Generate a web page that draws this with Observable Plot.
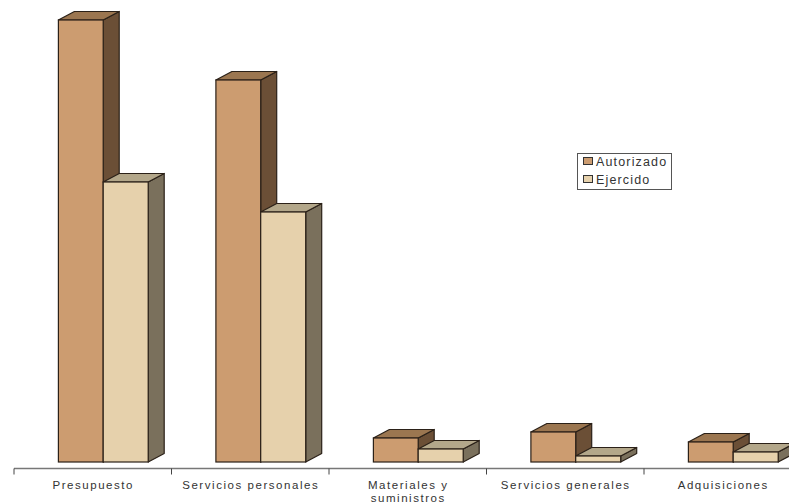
<!DOCTYPE html>
<html>
<head>
<meta charset="utf-8">
<script src="https://cdn.jsdelivr.net/npm/d3@7"></script>
<script src="https://cdn.jsdelivr.net/npm/@observablehq/plot@0.6"></script>
<style>
  html, body { margin: 0; padding: 0; background: #fff; overflow: hidden; }
  #chart { position: relative; width: 789px; height: 504px; }
  #chart svg { display: block; position: absolute; left: 0; top: 0; background: #fff; }
  #chart svg text { letter-spacing: 1.55px; }
  .legend { position: absolute; left: 577px; top: 153px; width: 93px; height: 35px; box-sizing: content-box;
    border: 1px solid #555; background: #fff; font: 12.5px "Liberation Sans", Arial, sans-serif; letter-spacing: 1.15px; color: #333; }
  .legend div { position: absolute; left: 5px; white-space: nowrap; line-height: 14px; }
  .legend i { display: inline-block; width: 8px; height: 6px; border: 1px solid #333; margin-right: 3px; vertical-align: 1px; }
</style>
</head>
<body>
<div id="chart"></div>
<script>
const categories = ["Presupuesto", "Servicios personales", "Materiales y\nsuministros", "Servicios generales", "Adquisiciones"];
const seriesNames = ["Autorizado", "Ejercido"];
const autorizado = [442, 382, 24, 30, 20];
const ejercido = [280, 250, 13, 6, 10];
const frontColors = ["#CC9C70", "#E6D1AC"];
const sideColors = ["#6B4F36", "#7A705C"];
const topColors = ["#9B7650", "#B3A78A"];
const lineColor = "#2b2118";
const depthX = 16, depthY = 8.5;

// Adds the oblique top and side faces behind each bar that Plot has drawn.
function extrude(side, top) {
  return function (index, scales, values, dimensions, context, next) {
    const g = next(index, scales, values, dimensions, context);
    d3.select(g).selectAll("rect").each(function () {
      const r = d3.select(this);
      const x = +r.attr("x"), y = +r.attr("y"), w = +r.attr("width"), h = +r.attr("height");
      const parent = d3.select(this.parentNode);
      const poly = (pts, fill) => parent.insert("polygon", () => this)
        .attr("points", pts.map((p) => p.join(",")).join(" "))
        .attr("fill", fill).attr("stroke", lineColor).attr("stroke-width", 1.2).attr("stroke-linejoin", "round");
      poly([[x + w, y], [x + w + depthX, y - depthY], [x + w + depthX, y + h - depthY], [x + w, y + h]], side);
      poly([[x, y], [x + depthX, y - depthY], [x + w + depthX, y - depthY], [x + w, y]], top);
    });
    return g;
  };
}

// Axis line with ticks at the boundaries between the category bands.
function bandAxis(index, { x, y }) {
  const g = d3.create("svg:g").attr("stroke", "#777").attr("fill", "none");
  const y0 = y(0) + 6.5;
  const [r0, r1] = x.range();
  g.append("line").attr("x1", r0).attr("x2", r1).attr("y1", y0).attr("y2", y0).attr("stroke-width", 1.4);
  categories.forEach((c) => {
    g.append("line").attr("x1", x(c)).attr("x2", x(c)).attr("y1", y0).attr("y2", y0 + 6).attr("stroke", "#444");
  });
  return g.node();
}

const plot = Plot.plot({
  width: 789,
  height: 504,
  marginTop: 20,
  marginLeft: 0,
  marginRight: 0,
  marginBottom: 35,
  style: { background: "#fff", fontFamily: "'Liberation Sans', Arial, sans-serif" },
  x: { type: "band", domain: categories, range: [14, 801.5], padding: 0, round: false, label: null },
  y: { domain: [0, 442], range: [462, 20], axis: null },
  marks: [
    Plot.barY(categories, {
      x: (d) => d, y: (d, i) => autorizado[i], fill: frontColors[0], stroke: lineColor, strokeWidth: 1.2,
      insetLeft: 44.4, insetRight: 68.3, render: extrude(sideColors[0], topColors[0])
    }),
    Plot.barY(categories, {
      x: (d) => d, y: (d, i) => ejercido[i], fill: frontColors[1], stroke: lineColor, strokeWidth: 1.2,
      insetLeft: 89.2, insetRight: 23.3, render: extrude(sideColors[1], topColors[1])
    }),
    bandAxis,
    Plot.axisX({
      domain: categories, tickSize: 0, tickPadding: 10, label: null, lineWidth: 30, lineHeight: 1.15,
      fontSize: 11.5, fill: "#333"
    })
  ]
});

const chart = document.getElementById("chart");
chart.appendChild(plot);

const legend = d3.select(chart).append("div").attr("class", "legend");
seriesNames.forEach((name, i) => {
  const row = legend.append("div").style("top", (i === 0 ? 1 : 19) + "px");
  row.append("i").style("background", frontColors[i]);
  row.append("span").text(name);
});
</script>
</body>
</html>
